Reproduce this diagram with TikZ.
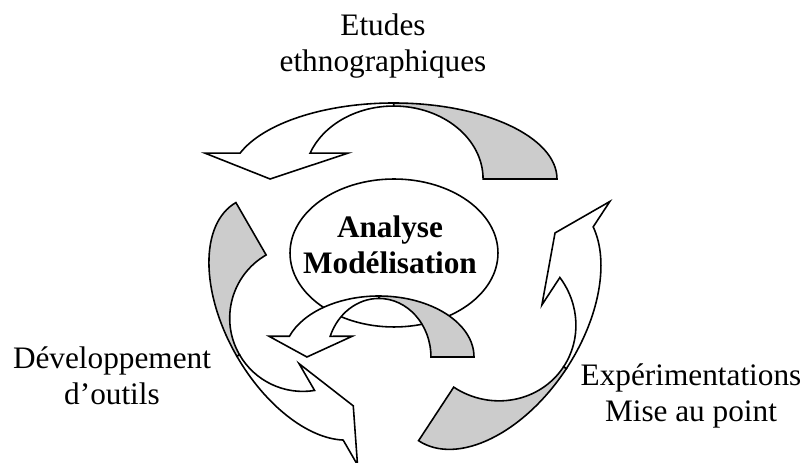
\documentclass[tikz,border=0pt]{standalone}
\usepackage{fontspec}
\setmainfont{Liberation Serif}
\usetikzlibrary{shapes.geometric}

\begin{document}
\begin{tikzpicture}[x=0.02cm, y=0.02cm, line width=0.9pt,
        lbl/.style={align=center, inner sep=0pt,
            font=\fontsize{17.8}{21}\selectfont},
        boldlbl/.style={lbl, font=\fontsize{17.8}{21}\selectfont\bfseries},
        back/.style={draw, fill=gray!40},
        front/.style={draw, fill=white},
        pics/curvarrow/.style={code={
            \filldraw[back] (1, 0)
            arc[start angle=0, end angle=90, x radius=0.464, y radius=1]
            -- (0.536, 0.96)
            arc[start angle=90, end angle=0, x radius=0.254, y radius=0.96]
            -- cycle;
            \filldraw[front] (0.536, 0) ++(160.12:0.464 and 1)
            arc[start angle=160.12, end angle=90, x radius=0.464, y radius=1]
            -- (0.536, 0.96)
            arc[start angle=90, end angle=159.3, x radius=0.254, y radius=0.96]
            -- (0.406, 0.34) -- (0.185, 0) -- (0, 0.34) -- cycle;
        }}]
        \useasboundingbox (0, 0) rectangle (806, 463);
        \node[draw, ellipse, fill=white, minimum width=4.16cm,
        minimum height=2.96cm] (analyse) at (394, 210) {};
        \pic[shift={(205, 284)}, xscale=352, yscale=76] {curvarrow};
        \pic[shift={(379.9, 11)}, rotate=120, xscale=288, yscale=76]
        {curvarrow};
        \pic[shift={(586, 277.2)}, rotate=-123.3, xscale=305, yscale=84]
        {curvarrow};
        \pic[shift={(269, 106)}, xscale=205, yscale=61] {curvarrow};
        \node[boldlbl, anchor=base] (modele) at (390, 189)
        {Analyse\\Modélisation};
        \node[lbl, anchor=base] (etudes) at (383, 391)
        {Etudes\\ethnographiques};
        \node[lbl, anchor=base] (outils) at (112, 58)
        {Développement\\d’outils};
        \node[lbl, anchor=base] (experim) at (691, 41)
        {Expérimentations\\Mise au point};
\end{tikzpicture}
\end{document}
